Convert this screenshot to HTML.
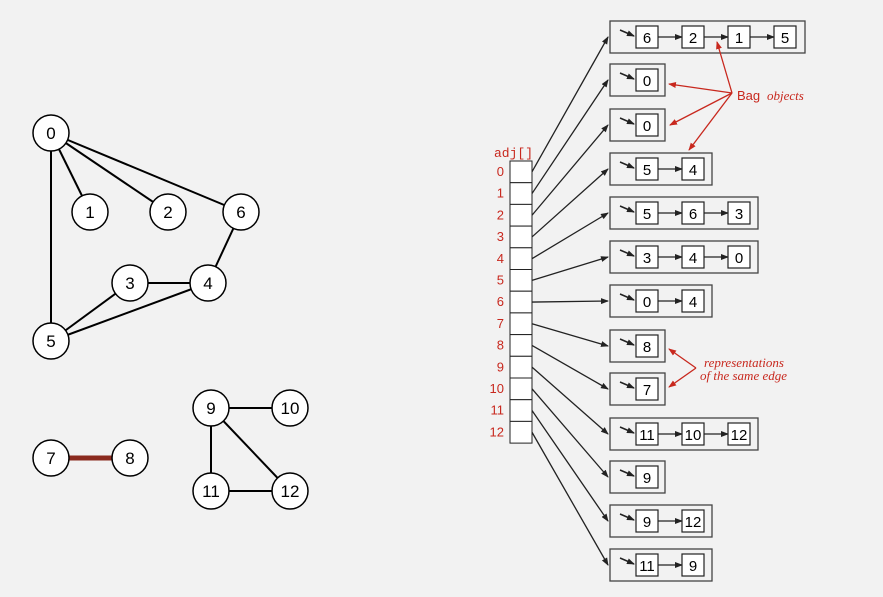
<!DOCTYPE html>
<html><head><meta charset="utf-8"><style>
html,body{margin:0;padding:0;background:#f2f2f2;}
svg{display:block;font-family:"Liberation Sans",sans-serif;}
</style></head><body>
<svg id="s" width="883" height="597" viewBox="0 0 883 597" xmlns="http://www.w3.org/2000/svg">
<defs>
<marker id="a" markerWidth="8" markerHeight="6" refX="7" refY="3" orient="auto" markerUnits="userSpaceOnUse"><path d="M0,0 L8,3 L0,6 z" fill="#222"/></marker>
<marker id="r" markerWidth="8" markerHeight="6" refX="7" refY="3" orient="auto" markerUnits="userSpaceOnUse"><path d="M0,0 L8,3 L0,6 z" fill="#c8281e"/></marker>
</defs>
<g stroke="#000" stroke-width="2">
<line x1="51" y1="133" x2="90" y2="212"/><line x1="51" y1="133" x2="168" y2="212"/><line x1="51" y1="133" x2="241" y2="212"/><line x1="51" y1="133" x2="51" y2="341"/>
<line x1="241" y1="212" x2="208" y2="283"/><line x1="130" y1="283" x2="208" y2="283"/><line x1="130" y1="283" x2="51" y2="341"/><line x1="208" y1="283" x2="51" y2="341"/>
<line x1="211" y1="408" x2="290" y2="408"/><line x1="211" y1="408" x2="211" y2="491"/><line x1="211" y1="408" x2="290" y2="491"/><line x1="211" y1="491" x2="290" y2="491"/>
</g>
<line x1="51" y1="458" x2="130" y2="458" stroke="#8b2a1e" stroke-width="5"/>
<g id="nodes"></g>
<g id="arr"></g>
<text x="494" y="157" font-family="Liberation Mono,monospace" font-size="13" fill="#c8281e">adj[]</text>
<g fill="#c8281e" font-size="13">
<text x="737" y="100">Bag</text>
<text x="767" y="100" font-family="Liberation Serif,serif" font-style="italic" font-size="13">objects</text>
<text x="704" y="367" font-family="Liberation Serif,serif" font-style="italic">representations</text>
<text x="700" y="380" font-family="Liberation Serif,serif" font-style="italic">of the same edge</text>
</g>
<g stroke="#c8281e" stroke-width="1.3" marker-end="url(#r)">
<line x1="732" y1="93" x2="717" y2="42"/><line x1="732" y1="93" x2="669" y2="84"/><line x1="732" y1="93" x2="670" y2="125"/><line x1="732" y1="93" x2="689" y2="150"/>
<line x1="696" y1="368" x2="669" y2="349"/><line x1="696" y1="368" x2="669" y2="387"/>
</g>
</svg>
<script>
var S="http://www.w3.org/2000/svg";
function el(p,t,a,tx){var e=document.createElementNS(S,t);for(var k in a)e.setAttribute(k,a[k]);if(tx!=null)e.textContent=tx;p.appendChild(e);return e;}
var N=document.getElementById("nodes");
[[0,51,133],[1,90,212],[2,168,212],[6,241,212],[3,130,283],[4,208,283],[5,51,341],[7,51,458],[8,130,458],[9,211,408],[10,290,408],[11,211,491],[12,290,491]].forEach(function(n){
el(N,"circle",{cx:n[1],cy:n[2],r:18,fill:"#fff",stroke:"#000","stroke-width":1.5});
el(N,"text",{x:n[1],y:n[2]+6,"text-anchor":"middle","font-size":17},n[0]);});
var A=document.getElementById("arr");
var top0=161,ch=21.7;
var lists=[[6,2,1,5],[0],[0],[5,4],[5,6,3],[3,4,0],[0,4],[8],[7],[11,10,12],[9],[9,12],[11,9]];
var cys=[37,80,125,169,213,257,301,346,389,434,477,521,565];
for(var i=0;i<13;i++){
 var y=top0+i*ch;
 el(A,"rect",{x:510,y:y,width:22,height:ch,fill:"#fff",stroke:"#222","stroke-width":1});
 el(A,"text",{x:504,y:y+15,"text-anchor":"end","font-size":13,fill:"#c8281e"},i);
 var cy=cys[i],L=lists[i],w=L.length==1?55:(L.length==2?102:(L.length==3?148:195));
 el(A,"line",{x1:532,y1:y+ch/2,x2:608,y2:cy,stroke:"#222","stroke-width":1.3,"marker-end":"url(#a)"});
 el(A,"rect",{x:610,y:cy-16,width:w,height:32,fill:"none",stroke:"#444","stroke-width":1.3});
 el(A,"line",{x1:620,y1:cy-7,x2:634,y2:cy-1,stroke:"#222","stroke-width":1.5,"marker-end":"url(#a)"});
 for(var j=0;j<L.length;j++){
  var x=636+j*46;
  el(A,"rect",{x:x,y:cy-11,width:22,height:22,fill:"#fff",stroke:"#222","stroke-width":1.2});
  el(A,"text",{x:x+11,y:cy+6,"text-anchor":"middle","font-size":15},L[j]);
  if(j<L.length-1)el(A,"line",{x1:x+22,y1:cy,x2:x+46,y2:cy,stroke:"#222","stroke-width":1.2,"marker-end":"url(#a)"});
 }
}
el(A,"line",{x1:532,y1:top0+13*ch-2,x2:532,y2:top0+13*ch-2,stroke:"none"});
</script>
</body></html>
